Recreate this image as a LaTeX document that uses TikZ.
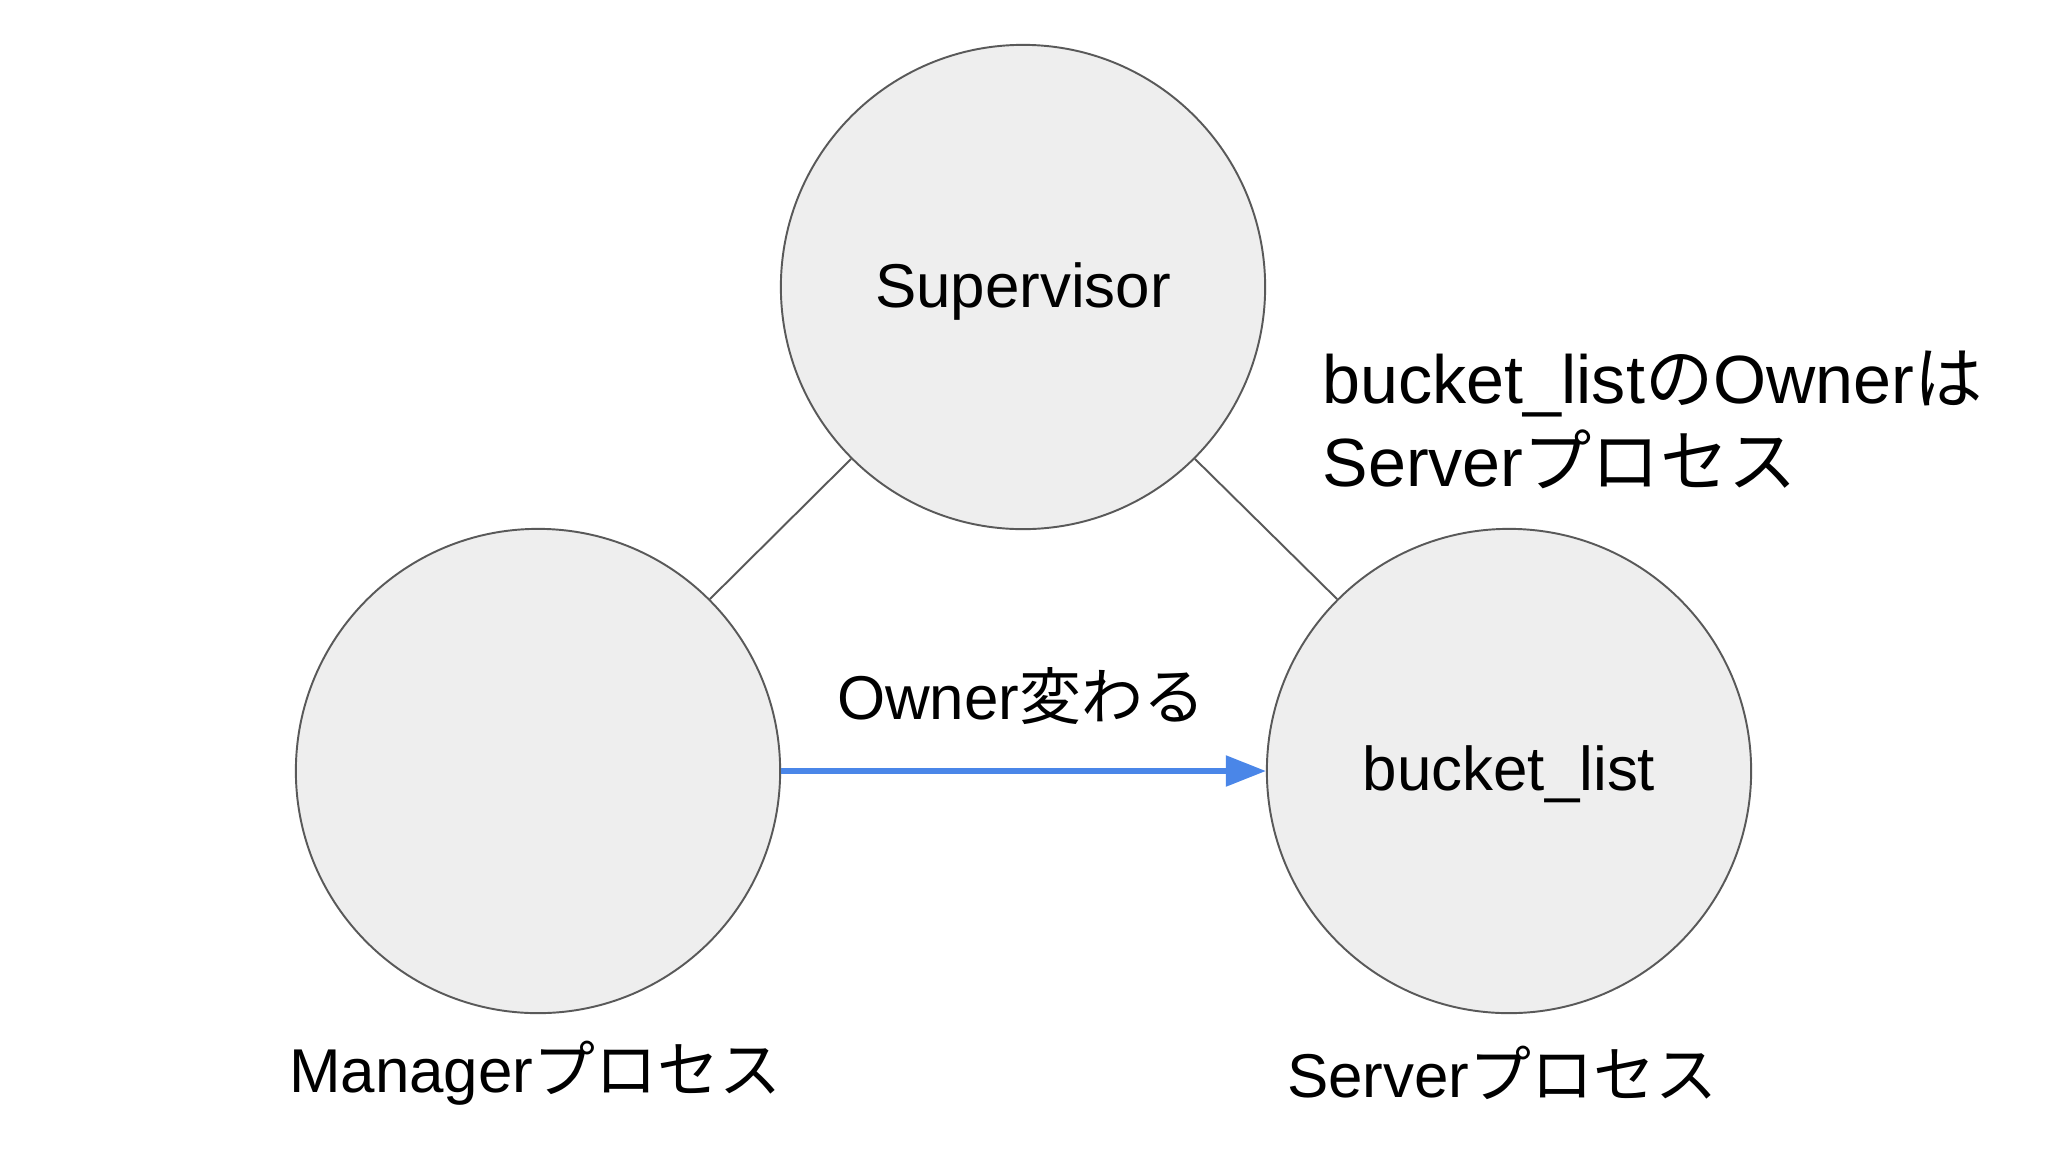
\documentclass[tikz,border=0pt]{standalone}
\usepackage{fontspec}
\setmainfont{Liberation Sans}
\newfontfamily\jp{Noto Sans CJK JP}
\usetikzlibrary{arrows.meta}
\definecolor{circfill}{HTML}{EEEEEE}
\definecolor{circline}{HTML}{595959}
\definecolor{ownblue}{HTML}{4A86E8}
\tikzset{
  proc/.style={circle,draw=circline,line width=0.55pt,fill=circfill,minimum size=4.84cm,inner sep=0pt},
  link/.style={draw=circline,line width=0.55pt},
  txt/.style={font=\fontsize{17.6}{23}\selectfont,inner sep=0pt}
}
\begin{document}
\begin{tikzpicture}[x=0.01cm,y=-0.01cm]
\useasboundingbox (0,0) rectangle (2052,1154);

% processes
\node[proc] (sup) at (1023,287) {};
\node[proc] (mgr) at (538,771) {};
\node[proc] (srv) at (1509,771) {};

\node[txt] (suplbl) at (1023,291) {Supervisor};
\node[txt] (srvlbl) at (1509,774) {bucket\_list};
\node[txt] (mgrname) at (535,1073) {Manager{\jp プロセス}};
\node[txt] (srvname) at (1502,1073) {Server{\jp プロセス}};

\draw[link] (sup.225) -- (mgr.45);
\draw[link] (sup.-45) -- (srv.135);

% owner change
\draw[ownblue,line width=1.5pt,-{Triangle[length=0.4cm,width=0.3cm]}] (mgr.east) -- (srv.west);
\node[txt] (chg) at (1021,696) {Owner{\jp 変わる}};

\node[txt,font=\fontsize{19.4}{23.5}\selectfont,anchor=west,align=left] (note) at (1322,420) {bucket\_list{\jp の}Owner{\jp は}\\Server{\jp プロセス}};

\end{tikzpicture}
\end{document}
